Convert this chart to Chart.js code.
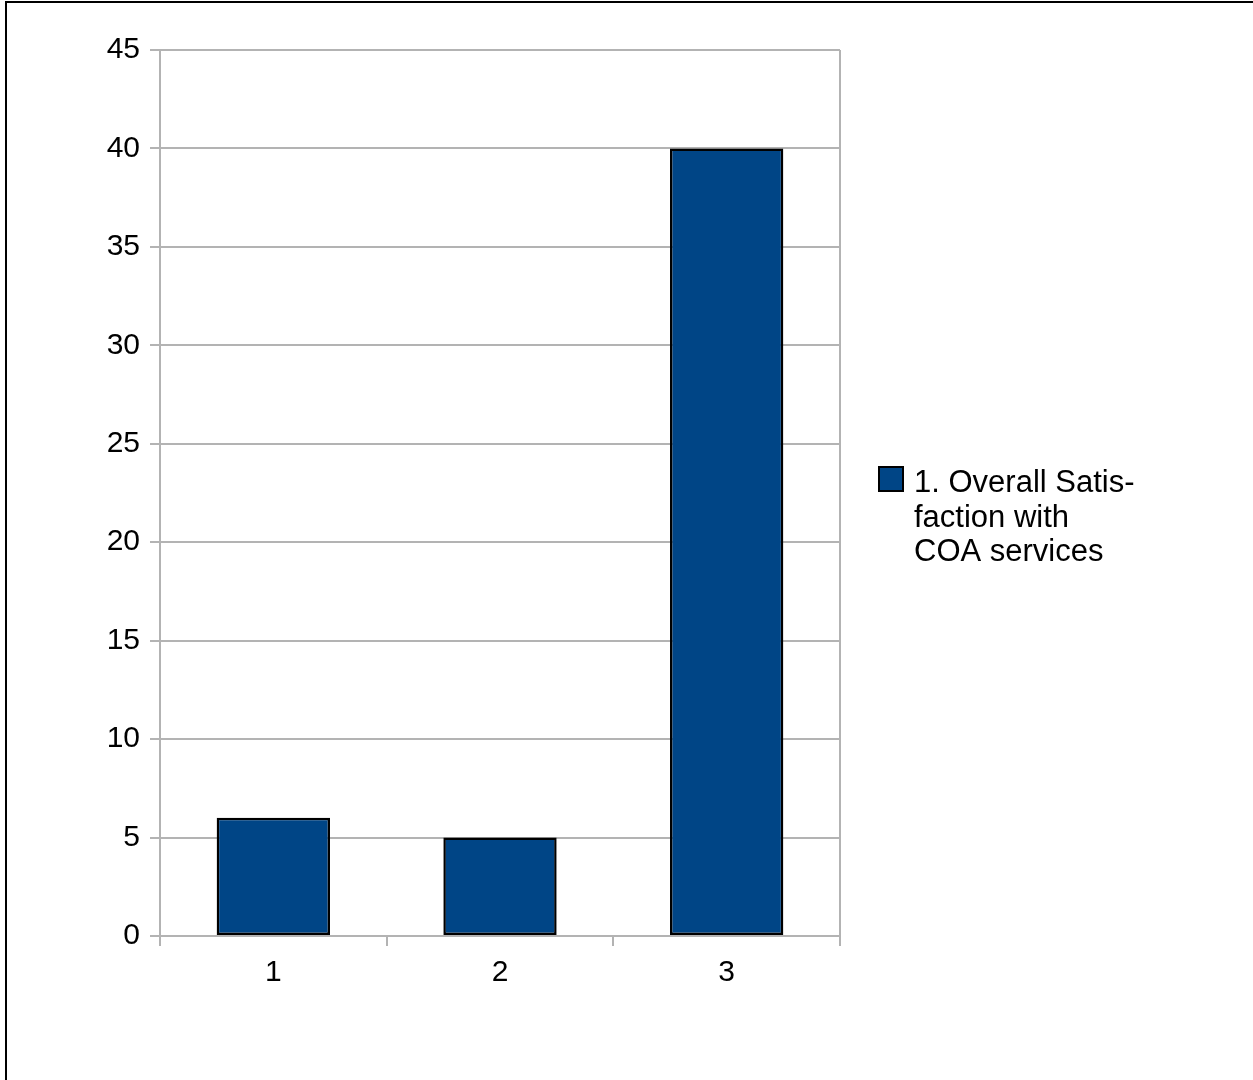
<!DOCTYPE html>
<html>
<head>
<meta charset="utf-8">
<title>Overall Satisfaction</title>
<script src="https://cdn.jsdelivr.net/npm/chart.js@4/dist/chart.umd.min.js"></script>
<style>
    html, body { margin: 0; padding: 0; background: #fff; }
    #wrap { position: relative; width: 1253px; height: 1080px; overflow: hidden; }
    #frame { position: absolute; left: 5px; top: 1px; right: -10px; bottom: -10px;
             border-left: 2px solid #000; border-top: 2px solid #000; pointer-events: none; }
    canvas { position: absolute; left: 0; top: 0; }
</style>
</head>
<body>
<div id="wrap">
    <canvas id="chart" width="1253" height="1080"></canvas>
    <div id="frame"></div>
</div>
<script>
// 数据
const categories = ['1', '2', '3'];
const seriesName = '1. Overall Satisfaction with COA services';
const legendLines = ['1. Overall Satis-', 'faction with', 'COA services'];
const seriesValues = [6, 5, 40];
const yTicks = [0, 5, 10, 15, 20, 25, 30, 35, 40, 45];

const BAR_COLOR = '#004586';
const GRID_COLOR = '#b3b3b3';
const FONT = '"Liberation Sans", Arial, sans-serif';

// 右侧图例（多行文字）
const sideLegend = {
    id: 'sideLegend',
    afterDraw(chart) {
        const ctx = chart.ctx;
        const x = 879, y = 467;
        ctx.save();
        ctx.fillStyle = BAR_COLOR;
        ctx.fillRect(x, y, 24, 24);
        ctx.strokeStyle = '#000';
        ctx.lineWidth = 2;
        ctx.strokeRect(x, y, 24, 24);
        ctx.fillStyle = '#000';
        ctx.font = '31px ' + FONT;
        ctx.textBaseline = 'alphabetic';
        legendLines.forEach((line, i) => {
            ctx.fillText(line, 914, 492 + i * 34.5);
        });
        ctx.restore();
    }
};

new Chart(document.getElementById('chart'), {
    type: 'bar',
    data: {
        labels: categories,
        datasets: [{
            label: seriesName,
            data: seriesValues,
            backgroundColor: BAR_COLOR,
            borderColor: '#000',
            borderWidth: 2.5,
            borderSkipped: false,
            barPercentage: 0.5,
            categoryPercentage: 1
        }]
    },
    options: {
        responsive: false,
        animation: false,
        layout: { padding: { top: 50, right: 413, left: 0, bottom: 0 } },
        scales: {
            x: {
                offset: true,
                grid: {
                    offset: true,
                    drawOnChartArea: true,
                    color: c => (c.type === 'tick' && c.index > 0) ? 'transparent' : GRID_COLOR,
                    tickColor: GRID_COLOR,
                    tickLength: 10,
                    lineWidth: 2
                },
                border: { display: false },
                ticks: { color: '#000', font: { family: FONT, size: 30 }, padding: 9 },
                afterFit: s => { s.height = 144; }
            },
            y: {
                min: 0,
                max: 45,
                afterBuildTicks: s => { s.ticks = yTicks.map(v => ({ value: v })); },
                grid: {
                    color: GRID_COLOR,
                    tickColor: GRID_COLOR,
                    tickLength: 10,
                    lineWidth: 2
                },
                border: { display: true, color: GRID_COLOR, width: 2 },
                ticks: { color: '#000', font: { family: FONT, size: 30 }, padding: 10 },
                afterFit: s => { s.width = 160; }
            }
        },
        plugins: {
            legend: { display: false },
            tooltip: { enabled: false }
        }
    },
    plugins: [sideLegend]
});
</script>
</body>
</html>
